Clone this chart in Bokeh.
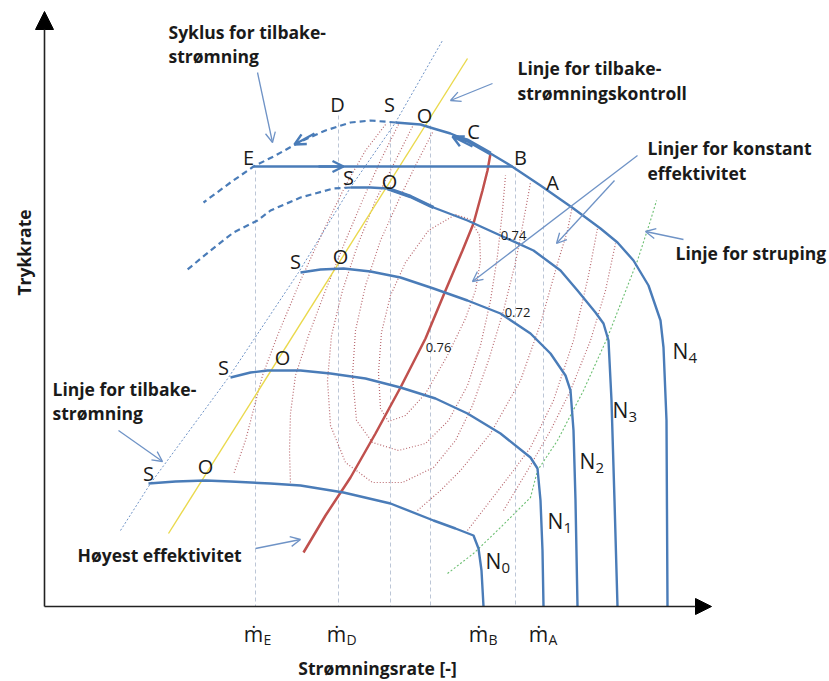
from bokeh.plotting import figure
from bokeh.models import Range1d, Arrow, NormalHead, OpenHead
from bokeh.embed import file_html
from bokeh.resources import INLINE
from bokeh.core.properties import value
import math

# ---------------- data (schematic compressor map, page-pixel units) ----------------
# speed lines N0..N4
n0_x = [148, 175, 205, 230, 270, 300, 343, 390, 433, 455, 473, 478, 481, 483]
n0_y = [483, 481, 480, 481, 483, 485, 492, 503, 520, 528, 535, 548, 570, 606]
n1_x = [230, 250, 267, 300, 330, 365, 400, 435, 467, 500, 530, 537, 540, 542, 543]
n1_y = [377, 372, 370, 370, 373, 378, 387, 398, 413, 433, 457, 468, 500, 550, 606]
n2_x = [300, 320, 343, 370, 400, 433, 467, 500, 530, 550, 565, 570, 573, 575, 577]
n2_y = [272, 269, 268, 271, 277, 288, 300, 313, 333, 353, 375, 390, 430, 500, 606]
n3_x = [350, 370, 387, 410, 433, 467, 500, 533, 560, 577, 595, 603, 608, 611, 614, 617]
n3_y = [187, 187, 188, 196, 207, 220, 235, 250, 270, 290, 312, 323, 340, 400, 500, 606]
n4_x = [395, 420, 433, 450, 467, 490, 510, 540, 573, 600, 617, 633, 648, 660, 663, 666, 667]
n4_y = [122, 124, 128, 133, 140, 153, 165, 185, 208, 228, 242, 260, 285, 320, 347, 420, 606]
speed_names = ["N", "N", "N", "N", "N"]
speed_subs = ["0", "1", "2", "3", "4"]
speed_lab_x = [493, 555, 587, 620, 680]
speed_lab_y = [560, 520, 460, 409, 350]

# bold parts of the cycle
bold4_x = [453, 467, 490]
bold4_y = [136, 140, 153]
bold3_x = [387, 410, 433]
bold3_y = [188, 196, 207]

# surge cycle (dashed continuations) and E-B line
dash4_x = [395, 370, 350, 325, 300, 275, 253, 230, 203]
dash4_y = [122, 120, 122, 130, 141, 155, 166, 182, 202]
dash3_x = [350, 333, 300, 270, 257, 233, 210, 187]
dash3_y = [187, 188, 197, 210, 220, 232, 250, 269]
eb_x = [253, 512]
eb_y = [166, 166]

# surge line, surge-control line, choke line, best-efficiency line
surge_x = [120, 150, 228, 298, 350, 395, 442]
surge_y = [530, 483, 377, 272, 187, 122, 40]
control_x = [168, 467]
control_y = [533, 58]
choke_x = [447, 473, 500, 530, 537, 557, 583, 607, 637, 650, 656]
choke_y = [573, 553, 527, 497, 470, 440, 390, 337, 260, 220, 200]
best_x = [303, 325, 350, 375, 400, 425, 445, 462, 473, 482, 487, 490]
best_y = [552, 515, 477, 433, 387, 338, 290, 250, 223, 190, 170, 153]

# constant-efficiency contours
eff_xs = [
    [455, 470, 479, 480, 475, 465, 447, 425, 405, 388, 380, 378, 381, 390, 405, 428, 455],
    [432, 415, 398, 380, 365, 355, 352, 356, 372, 398, 425, 448, 467, 480, 490, 497, 502, 505],
    [412, 395, 375, 357, 342, 331, 327, 330, 345, 372, 402, 433, 455, 472, 488, 503, 515, 524, 530],
    [398, 380, 362, 343, 325, 308, 295, 290, 289, 290],
    [417, 440, 460, 490, 520, 540, 557, 567, 572],
    [385, 365, 345, 323, 300, 277, 262, 252, 245, 233],
    [467, 490, 513, 530, 553, 573, 588, 597],
    [503, 527, 550, 570, 590, 605, 615],
]
eff_ys = [
    [214, 219, 235, 260, 290, 318, 355, 393, 415, 421, 408, 372, 332, 295, 262, 230, 214],
    [132, 165, 200, 240, 285, 330, 375, 420, 442, 450, 443, 420, 385, 345, 300, 255, 210, 175],
    [126, 160, 200, 245, 290, 335, 380, 425, 462, 482, 482, 467, 440, 405, 360, 310, 262, 215, 182],
    [124, 160, 200, 245, 290, 335, 375, 413, 450, 484],
    [510, 490, 470, 433, 380, 323, 263, 230, 205],
    [124, 150, 185, 230, 280, 335, 375, 413, 440, 474],
    [530, 500, 470, 447, 400, 340, 275, 228],
    [510, 470, 430, 390, 340, 290, 243],
]
eff_labels = ["0.74", "0.72", "0.76"]
eff_lab_x = [513, 517, 438]
eff_lab_y = [235, 312, 347]

# flow-rate marks
flow_names = ["ṁ", "ṁ", "ṁ", "ṁ"]
flow_subs = ["E", "D", "B", "A"]
flow_ticks = [253, 336, 478, 538]
vline_x = [255, 338, 390, 430, 515, 543]
vline_top = [170, 115, 122, 125, 166, 190]
vline_bot = [606, 606, 606, 606, 606, 468]

# point letters
pt_labels = ["E", "D", "S", "O", "C", "B", "A", "S", "O", "S", "O", "S", "O", "S", "O"]
pt_x = [248, 337, 389, 424, 473, 520, 552, 348, 389, 295, 340, 223, 282, 148, 205]
pt_y = [157, 104, 104, 115, 131, 157, 182, 177, 181, 261, 256, 367, 357, 473, 466]

# annotations
note_text = ["Syklus for tilbake-", "strømning",
             "Linje for tilbake-", "strømningskontroll",
             "Linjer for konstant", "effektivitet",
             "Linje for struping",
             "Linje for tilbake-", "strømning",
             "Høyest effektivitet"]
note_x = [168, 168, 517, 517, 647, 647, 675, 52, 52, 77]
note_y = [31, 55, 67, 92, 147, 172, 252, 388, 412, 554]
pointer_x0 = [257, 492, 637, 614, 683, 118, 255]
pointer_y0 = [72, 83, 155, 180, 239, 430, 548]
pointer_x1 = [272, 450, 472, 556, 645, 162, 300]
pointer_y1 = [142, 100, 281, 243, 231, 461, 539]

# axes
origin_x, origin_y = 44, 606
x_axis_end, y_axis_end = 711, 11
x_title = "Strømningsrate [-]"
y_title = "Trykkrate"

# ---------------- styles ----------------
BLUE = "#4a7cb8"
THIN_BLUE = "#6f93c6"
RED = "#c0504d"
CONTOUR = "#b0575e"
YELLOW = "#ead94c"
GREEN = "#6cbf72"
VGRAY = "#bcc6d6"
TXT = "#1a1a1a"
FONT = value("Open Sans")

p = figure(width=829, height=681, output_backend="svg", toolbar_location=None,
           x_range=Range1d(0, 829), y_range=Range1d(681, 0),
           x_axis_type=None, y_axis_type=None, min_border=0)
p.grid.visible = False
p.outline_line_color = None
p.background_fill_color = "white"

# vertical dashed guides
p.segment(x0=vline_x, y0=vline_top, x1=vline_x, y1=vline_bot,
          line_color=VGRAY, line_width=1, line_dash="4 3")

# efficiency contours
p.multi_line(xs=eff_xs, ys=eff_ys, line_color=CONTOUR, line_width=1.2,
             line_dash="1 2", line_alpha=0.9)

# special lines
p.line(surge_x, surge_y, line_color=THIN_BLUE, line_width=1, line_dash="2 2")
p.line(control_x, control_y, line_color=YELLOW, line_width=1.4)
p.line(choke_x, choke_y, line_color=GREEN, line_width=1.1, line_dash="2 2")
p.line(best_x, best_y, line_color=RED, line_width=2.5)

# speed lines
for xs, ys in [(n0_x, n0_y), (n1_x, n1_y), (n2_x, n2_y), (n3_x, n3_y), (n4_x, n4_y)]:
    p.line(xs, ys, line_color=BLUE, line_width=2.4, line_join="round")
p.line(bold4_x, bold4_y, line_color=BLUE, line_width=4)
p.line(bold3_x, bold3_y, line_color=BLUE, line_width=3.6)
p.line(dash4_x, dash4_y, line_color=BLUE, line_width=2.2, line_dash="6 4")
p.line(dash3_x, dash3_y, line_color=BLUE, line_width=2.2, line_dash="6 4")
p.line(eb_x, eb_y, line_color=BLUE, line_width=2.4)

# cycle arrows
for (xa, ya, xb, yb) in [(318, 166, 343, 166), (472, 146, 452, 136), (314, 133, 294, 144)]:
    p.add_layout(Arrow(x_start=xa, y_start=ya, x_end=xb, y_end=yb,
                       line_color=BLUE, line_width=2.4,
                       end=OpenHead(size=11, line_color=BLUE, line_width=2.4)))

# pointer arrows
for i in range(len(pointer_x0)):
    p.add_layout(Arrow(x_start=pointer_x0[i], y_start=pointer_y0[i],
                       x_end=pointer_x1[i], y_end=pointer_y1[i],
                       line_color=THIN_BLUE, line_width=1.3,
                       end=OpenHead(size=10, line_color=THIN_BLUE, line_width=1.3)))

# axes with arrow heads
p.add_layout(Arrow(x_start=origin_x, y_start=origin_y, x_end=origin_x, y_end=y_axis_end,
                   line_color="#222222", line_width=1.6,
                   end=NormalHead(size=18, fill_color="black", line_color="black")))
p.add_layout(Arrow(x_start=origin_x, y_start=origin_y, x_end=x_axis_end, y_end=origin_y,
                   line_color="#222222", line_width=1.6,
                   end=NormalHead(size=16, fill_color="black", line_color="black")))

# texts
p.text(x=pt_x, y=pt_y, text=pt_labels, text_font=FONT, text_font_size="20px",
       text_color=TXT, text_align="center", text_baseline="middle")
p.text(x=eff_lab_x, y=eff_lab_y, text=eff_labels, text_font=FONT, text_font_size="13px",
       text_color=TXT, text_align="center", text_baseline="middle")
p.text(x=speed_lab_x, y=speed_lab_y, text=speed_names, text_font=FONT, text_font_size="21px",
       text_color=TXT, text_align="center", text_baseline="middle")
p.text(x=[v + 8 for v in speed_lab_x], y=[v + 7 for v in speed_lab_y], text=speed_subs,
       text_font=FONT, text_font_size="15px", text_color=TXT, text_align="left",
       text_baseline="middle")
p.text(x=flow_ticks, y=[origin_y + 27] * len(flow_ticks), text=flow_names, text_font=FONT,
       text_font_size="21px", text_color=TXT, text_align="center", text_baseline="middle")
p.text(x=[v + 10 for v in flow_ticks], y=[origin_y + 33] * len(flow_ticks), text=flow_subs,
       text_font=FONT, text_font_size="14px", text_color=TXT, text_align="left",
       text_baseline="middle")
p.text(x=note_x, y=note_y, text=note_text, text_font=FONT, text_font_size="17.5px",
       text_font_style="bold", text_color=TXT, text_align="left", text_baseline="middle")
p.text(x=[377], y=[667], text=[x_title], text_font=FONT, text_font_size="17.5px",
       text_font_style="bold", text_color=TXT, text_align="center", text_baseline="middle")
p.text(x=[23], y=[252], text=[y_title], text_font=FONT, text_font_size="17.5px",
       text_font_style="bold", text_color=TXT, text_align="center", text_baseline="middle",
       angle=math.pi / 2)

open("out.html", "w").write(file_html(p, INLINE))
